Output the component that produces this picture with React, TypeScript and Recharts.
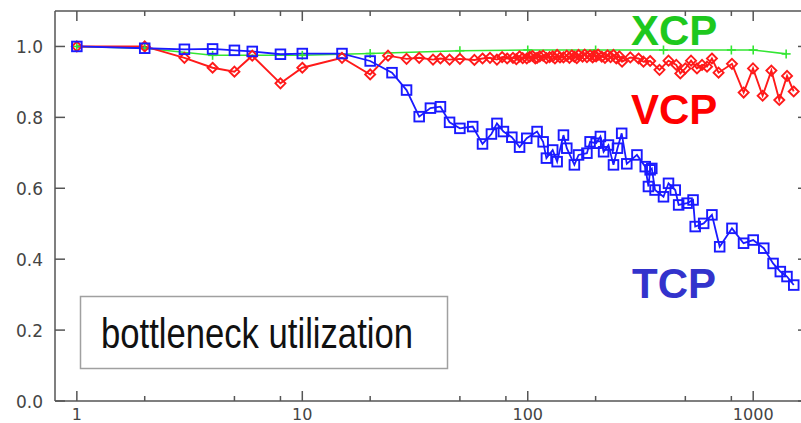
import React from 'react';
import { LineChart, Line, XAxis, YAxis, ReferenceLine } from 'recharts';

// flow counts (x) and bottleneck utilization (y) per protocol
const xcpFlows = [1, 2, 4, 10, 20, 50, 100, 200, 400, 800, 1000, 1400];
const xcpUtil = [1.0, 0.995, 0.975, 0.975, 0.98, 0.988, 0.99, 0.99, 0.99, 0.99, 0.99, 0.979];

const vcpFlows = [
  1, 2, 3, 4, 5, 6, 8, 10, 15, 20, 24, 29, 33, 38, 41, 45, 50, 58, 63, 68, 73, 77, 81, 86,
  89, 92, 95, 99, 102, 105, 108, 110, 113, 117, 121, 125, 129, 132, 135, 139, 144, 149, 153,
  157, 161, 165, 168, 175, 179, 183, 189, 194, 197, 201, 205, 213, 220, 226, 233, 240, 247,
  255, 262, 285, 310, 326, 349, 384, 421, 456, 475, 500, 530, 563, 593, 624, 656, 702, 805,
  907, 998, 1101, 1204, 1305, 1413, 1512,
];
const vcpUtil = [
  1.0, 1.0, 0.968, 0.94, 0.929, 0.974, 0.896, 0.94, 0.968, 0.921, 0.974, 0.965, 0.968,
  0.963, 0.966, 0.963, 0.965, 0.962, 0.966, 0.968, 0.963, 0.97, 0.966, 0.968, 0.964, 0.972,
  0.967, 0.966, 0.971, 0.973, 0.966, 0.968, 0.972, 0.974, 0.967, 0.97, 0.972, 0.966, 0.976,
  0.969, 0.969, 0.974, 0.968, 0.975, 0.971, 0.967, 0.976, 0.971, 0.977, 0.97, 0.975, 0.969,
  0.974, 0.972, 0.977, 0.971, 0.968, 0.975, 0.97, 0.976, 0.966, 0.972, 0.957, 0.969, 0.966,
  0.957, 0.959, 0.934, 0.96, 0.948, 0.924, 0.938, 0.96, 0.938, 0.948, 0.943, 0.966, 0.926,
  0.951, 0.87, 0.938, 0.861, 0.932, 0.849, 0.917, 0.873,
];

const tcpFlows = [
  1, 2, 3, 4, 5, 6, 8, 10, 15, 20, 25, 29, 33, 37, 41, 45, 50, 57, 63, 69, 73, 78, 85, 92,
  99, 110, 117, 121, 129, 135, 144, 149, 161, 168, 183, 189, 201, 210, 217, 228, 240, 250,
  261, 275, 305, 332, 343, 349, 355, 367, 400, 421, 451, 467, 509, 541, 553, 603, 656, 710,
  805, 906, 1000, 1114, 1225, 1319, 1412, 1513,
];
const tcpUtil = [
  1.0, 0.995, 0.992, 0.993, 0.989, 0.986, 0.978, 0.98, 0.98, 0.959, 0.926, 0.877, 0.802,
  0.826, 0.83, 0.786, 0.769, 0.774, 0.725, 0.753, 0.783, 0.76, 0.744, 0.716, 0.741, 0.76,
  0.731, 0.685, 0.708, 0.675, 0.75, 0.713, 0.666, 0.694, 0.699, 0.731, 0.727, 0.746, 0.703,
  0.722, 0.666, 0.713, 0.755, 0.669, 0.694, 0.661, 0.605, 0.652, 0.656, 0.595, 0.576, 0.614,
  0.595, 0.553, 0.558, 0.567, 0.492, 0.501, 0.525, 0.435, 0.487, 0.445, 0.454, 0.431, 0.388,
  0.365, 0.351, 0.327,
];

const xTicks = [1, 2, 5, 8, 10, 20, 50, 80, 100, 200, 500, 800, 1000];
const xLabels = [1, 10, 100, 1000];
const yTicks = [0, 0.2, 0.4, 0.6, 0.8, 1.0];

const zip = (xs: number[], ys: number[]) => xs.map((x, i) => ({ x, y: ys[i] }));
const xcpData = zip(xcpFlows, xcpUtil);
const vcpData = zip(vcpFlows, vcpUtil);
const tcpData = zip(tcpFlows, tcpUtil);

const PLOT_TOP = 11;
const PLOT_RIGHT = 808;
const AXIS = '#555';
const TICK_FONT = "'DejaVu Sans', sans-serif";

const GREEN = '#33e633';
const RED = '#ff1a1a';
const BLUE = '#1a1aff';

// inward ticks on bottom and mirrored on top, labels only on decades
const FlowTick = (props: any) => {
  const { x, y, payload } = props;
  const major = xLabels.includes(payload.value);
  const len = major ? 10 : 5;
  return (
    <g>
      <line x1={x} y1={y} x2={x} y2={y - len} stroke={AXIS} strokeWidth={1.5} />
      <line x1={x} y1={PLOT_TOP} x2={x} y2={PLOT_TOP + len} stroke={AXIS} strokeWidth={1.5} />
      {major && (
        <text x={x} y={y + 19} textAnchor="middle" fontSize={16} fill="#444" fontFamily={TICK_FONT}>
          {payload.value}
        </text>
      )}
    </g>
  );
};

const UtilTick = (props: any) => {
  const { x, y, payload } = props;
  return (
    <g>
      <line x1={x} y1={y} x2={x + 10} y2={y} stroke={AXIS} strokeWidth={1.5} />
      <line x1={PLOT_RIGHT - 10} y1={y} x2={PLOT_RIGHT} y2={y} stroke={AXIS} strokeWidth={1.5} />
      <text x={43} y={y + 7} textAnchor="end" fontSize={17} fill="#444" fontFamily={TICK_FONT}>
        {Number(payload.value).toFixed(1)}
      </text>
    </g>
  );
};

const Plus = (props: any) => {
  const { cx, cy, index } = props;
  if (cx == null || cy == null) return <g key={`p-${index}`} />;
  return (
    <g key={`p-${index}`}>
      <line x1={cx - 4.5} y1={cy} x2={cx + 4.5} y2={cy} stroke={GREEN} strokeWidth={1.6} />
      <line x1={cx} y1={cy - 4.5} x2={cx} y2={cy + 4.5} stroke={GREEN} strokeWidth={1.6} />
    </g>
  );
};

const Diamond = (props: any) => {
  const { cx, cy, index } = props;
  if (cx == null || cy == null) return <g key={`d-${index}`} />;
  const r = 5;
  return (
    <path
      key={`d-${index}`}
      d={`M${cx},${cy - r}L${cx + r},${cy}L${cx},${cy + r}L${cx - r},${cy}Z`}
      fill="none"
      stroke={RED}
      strokeWidth={1.9}
    />
  );
};

const Square = (props: any) => {
  const { cx, cy, index } = props;
  if (cx == null || cy == null) return <g key={`s-${index}`} />;
  const h = 4.8;
  return (
    <rect
      key={`s-${index}`}
      x={cx - h}
      y={cy - h}
      width={h * 2}
      height={h * 2}
      fill="none"
      stroke={BLUE}
      strokeWidth={1.9}
    />
  );
};

export default function App() {
  return (
    <div
      style={{
        position: 'absolute',
        left: 0,
        top: 0,
        width: 801,
        height: 423,
        overflow: 'hidden',
        background: '#fff',
      }}
    >
      <LineChart width={810} height={423} margin={{ top: PLOT_TOP, right: 2, bottom: 0, left: 0 }}>
        <XAxis
          dataKey="x"
          type="number"
          scale="log"
          domain={[0.8, 1750]}
          allowDataOverflow
          ticks={xTicks}
          interval={0}
          height={22}
          tickSize={0}
          tickMargin={0}
          tickLine={false}
          axisLine={{ stroke: AXIS, strokeWidth: 1.5 }}
          tick={(p: any) => <FlowTick {...p} />}
        />
        <YAxis
          type="number"
          domain={[0, 1.1]}
          allowDataOverflow
          ticks={yTicks}
          interval={0}
          width={55}
          tickSize={0}
          tickMargin={0}
          tickLine={false}
          axisLine={{ stroke: AXIS, strokeWidth: 1.5 }}
          tick={(p: any) => <UtilTick {...p} />}
        />
        <ReferenceLine y={1.1} stroke={AXIS} strokeWidth={1.5} />
        <ReferenceLine x={1750} stroke={AXIS} strokeWidth={1.5} />
        <Line
          data={xcpData}
          dataKey="y"
          stroke={GREEN}
          strokeWidth={1.6}
          dot={(p: any) => <Plus {...p} />}
          isAnimationActive={false}
        />
        <Line
          data={vcpData}
          dataKey="y"
          stroke={RED}
          strokeWidth={1.9}
          dot={(p: any) => <Diamond {...p} />}
          isAnimationActive={false}
        />
        <Line
          data={tcpData}
          dataKey="y"
          stroke={BLUE}
          strokeWidth={1.8}
          dot={(p: any) => <Square {...p} />}
          isAnimationActive={false}
        />
      </LineChart>
      <svg
        width={801}
        height={423}
        style={{ position: 'absolute', left: 0, top: 0, pointerEvents: 'none' }}
      >
        <g fontFamily="'Liberation Sans', Arial, sans-serif" fontWeight="bold" fontSize={42}>
          <text x={631} y={45} fill="#1ec81e">XCP</text>
          <text x={631} y={124} fill="#ff0000">VCP</text>
          <text x={632} y={298} fill="#3333cc">TCP</text>
        </g>
        <rect x={80.5} y={296.5} width={367} height={72} fill="#fff" stroke="#a0a0a0" strokeWidth={1.5} />
        <text
          x={101}
          y={348}
          fontFamily="'Liberation Sans Narrow', 'Liberation Sans', Arial, sans-serif"
          fontSize={42}
          fill="#111"
          textLength={312}
          lengthAdjust="spacingAndGlyphs"
        >
          bottleneck utilization
        </text>
      </svg>
    </div>
  );
}
